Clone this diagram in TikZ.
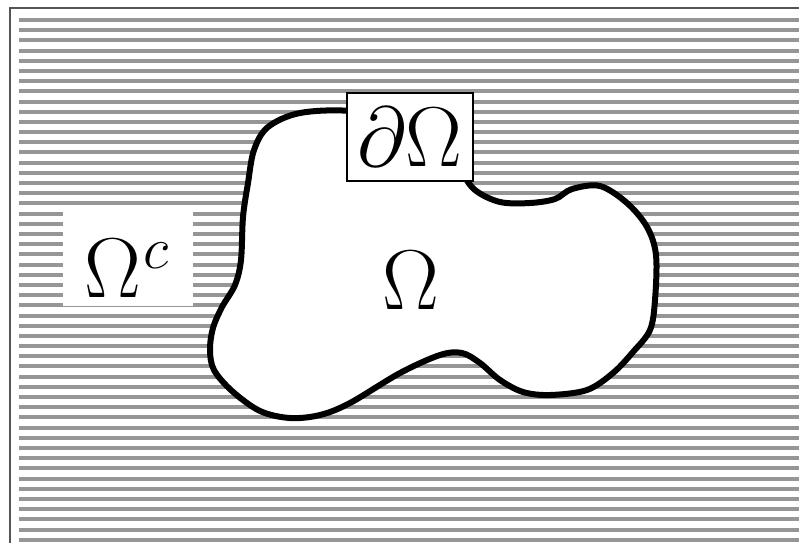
\RequirePackage{fix-cm}
\documentclass[tikz,border=0pt]{standalone}
\usepackage{xcolor}
\usepackage{tikz}
\definecolor{hatchgray}{RGB}{150,150,150}
\definecolor{framegray}{RGB}{85,85,85}

\begin{document}
\begin{tikzpicture}[
  x=1pt, y=-1pt,
  hatch/.style={line width=4pt, hatchgray},
  frameline/.style={line width=2pt, framegray},
  blob/.style={line width=6pt, draw=black, fill=white},
  bigmath/.style={font=\fontsize{85}{85}\selectfont, inner sep=0pt},
  boundbox/.style={bigmath, draw, line width=1.3pt, fill=white,
                   minimum width=126pt, minimum height=88pt},
  outbox/.style={fill=white, inner sep=0pt, minimum width=130pt, minimum height=97pt}
]
\useasboundingbox (0,0) rectangle (799,542);
\clip (0,0) rectangle (799,542);
\fill[white] (0,0) rectangle (799,542);
\foreach \i in {0,...,51}
  \draw[hatch] (19,{20+10.19*\i}) -- (810,{20+10.19*\i});
\draw[frameline] (10,8) rectangle (820,560);
\draw[blob] plot[smooth cycle, tension=0.55] coordinates {
  (300,113) (352,111) (420,122) (458,168) (475,190) (500,202) (530,203)
  (555,199) (572,189) (600,186) (627,203) (647,227) (656,255) (655,300)
  (650,330) (633,352) (613,373) (587,390) (550,395) (523,392) (500,380)
  (480,363) (462,353) (440,355) (400,373) (350,403) (320,415) (290,418)
  (260,411) (232,391) (214,370) (210,350) (213,328) (222,307) (235,285)
  (241,260) (243,217) (248,183) (254,150) (268,127)};
\node[boundbox] (bnd) at (410,137) {$\partial\Omega$};
\node[outbox] (extbox) at (128,257.5) {};
\node[bigmath, anchor=base west] (ext) at (84,297)
  {$\Omega\kern3pt\raisebox{29pt}{$\scriptstyle c$}$};
\node[bigmath] (dom) at (411,280) {$\Omega$};
\end{tikzpicture}
\end{document}
